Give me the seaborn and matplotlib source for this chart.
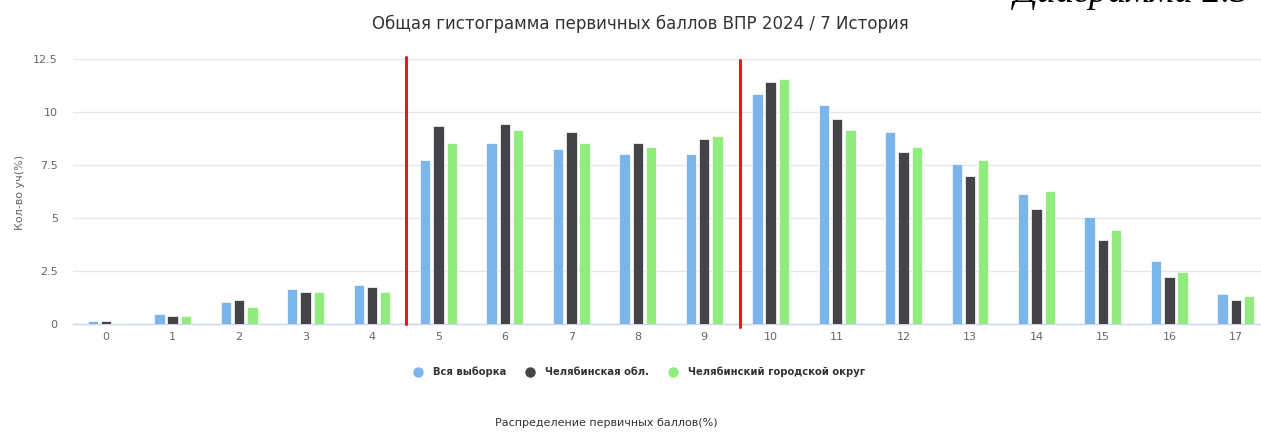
import matplotlib
matplotlib.use("Agg")
import matplotlib.pyplot as plt
from matplotlib.lines import Line2D
import seaborn as sns
import pandas as pd

# Primary score categories (0..17)
scores = [str(i) for i in range(18)]

# Share of students (%) by primary score
all_sample = [0.14, 0.45, 1.05, 1.66, 1.85, 7.74, 8.52, 8.25, 8.02, 8.02,
              10.86, 10.35, 9.06, 7.55, 6.12, 5.03, 2.96, 1.42]
chel_region = [0.14, 0.36, 1.14, 1.52, 1.75, 9.34, 9.42, 9.06, 8.52, 8.73,
               11.42, 9.65, 8.11, 6.97, 5.41, 3.94, 2.20, 1.13]
chel_city = [0.06, 0.36, 0.81, 1.52, 1.52, 8.52, 9.15, 8.52, 8.35, 8.87,
             11.56, 9.15, 8.35, 7.74, 6.26, 4.43, 2.44, 1.32]

series_names = ["Вся выборка", "Челябинская обл.", "Челябинский городской округ"]
series_colors = ["#7cb5ec", "#434348", "#90ed7d"]

y_ticks = [0, 2.5, 5, 7.5, 10, 12.5]
y_tick_labels = ["0", "2.5", "5", "7.5", "10", "12.5"]

# Grade boundaries shown as vertical markers (category-axis positions)
boundaries = [4.51, 9.54]

title = "Общая гистограмма первичных баллов ВПР 2024 / 7 История"
y_label = "Кол-во уч(%)"
x_label = "Распределение первичных баллов(%)"
caption = "Диаграмма 2.3"

df = pd.concat([
    pd.DataFrame({"score": scores, "value": vals, "series": name})
    for name, vals in zip(series_names, [all_sample, chel_region, chel_city])
])

sns.set_theme(style="white")
plt.rcParams["font.family"] = ["DejaVu Sans"]

fig = plt.figure(figsize=(12.61, 4.32), dpi=100)
ax = fig.add_axes([73 / 1261, 1 - 324 / 432, (1269 - 73) / 1261, 265 / 432])

sns.barplot(data=df, x="score", y="value", hue="series", order=scores,
            hue_order=series_names, palette=series_colors, saturation=1,
            width=0.6, gap=0.22, edgecolor="white", linewidth=0.5, ax=ax,
            legend=False, zorder=3)

ax.set_xlim(-0.5, 17.5)
ax.set_ylim(0, 12.5)
ax.set_yticks(y_ticks)
ax.set_yticklabels(y_tick_labels)
ax.grid(axis="y", color="#e6e6e6", linewidth=1.0, zorder=0)
ax.set_axisbelow(True)
for side in ["top", "right", "left"]:
    ax.spines[side].set_visible(False)
ax.spines["bottom"].set_color("#ccd6eb")
ax.spines["bottom"].set_linewidth(1.0)
ax.tick_params(axis="y", length=0, pad=11, labelsize=8, labelcolor="#666666")
ax.tick_params(axis="x", length=0, pad=6, labelsize=8, labelcolor="#666666")
ax.set_xlabel("")
ax.set_ylabel("")

# Grade boundary markers
ax.plot([boundaries[0], boundaries[0]], [0, 12.6], color="#f0141e",
        linewidth=2.2, clip_on=False, zorder=5)
ax.plot([boundaries[1], boundaries[1]], [-0.14, 12.45], color="#f0141e",
        linewidth=2.2, clip_on=False, zorder=5)

fig.text(640 / 1261, 1 - 24 / 432, title, ha="center", va="center",
         fontsize=12, color="#333333")
fig.text(20 / 1261, 1 - 192 / 432, y_label, ha="center", va="center",
         rotation=90, fontsize=8, color="#666666")
fig.text(606 / 1261, 1 - 423 / 432, x_label, ha="center", va="center",
         fontsize=8, color="#333333")
fig.text(1014 / 1261, 1 - 2 / 432, caption, ha="left", va="baseline",
         fontsize=27, style="italic", family="Liberation Serif", color="#000000")

handles = [Line2D([0], [0], marker="o", linestyle="", markersize=6.5,
                  markerfacecolor=c, markeredgecolor=c) for c in series_colors]
leg = fig.legend(handles, series_names, loc="center", ncol=3,
                 bbox_to_anchor=(639 / 1261, 1 - 372 / 432), frameon=False,
                 handletextpad=1.0, columnspacing=1.9, handlelength=1.0,
                 prop={"size": 7.2, "weight": "bold"})
for t in leg.get_texts():
    t.set_color("#333333")

fig.savefig("out.png", dpi=100)
